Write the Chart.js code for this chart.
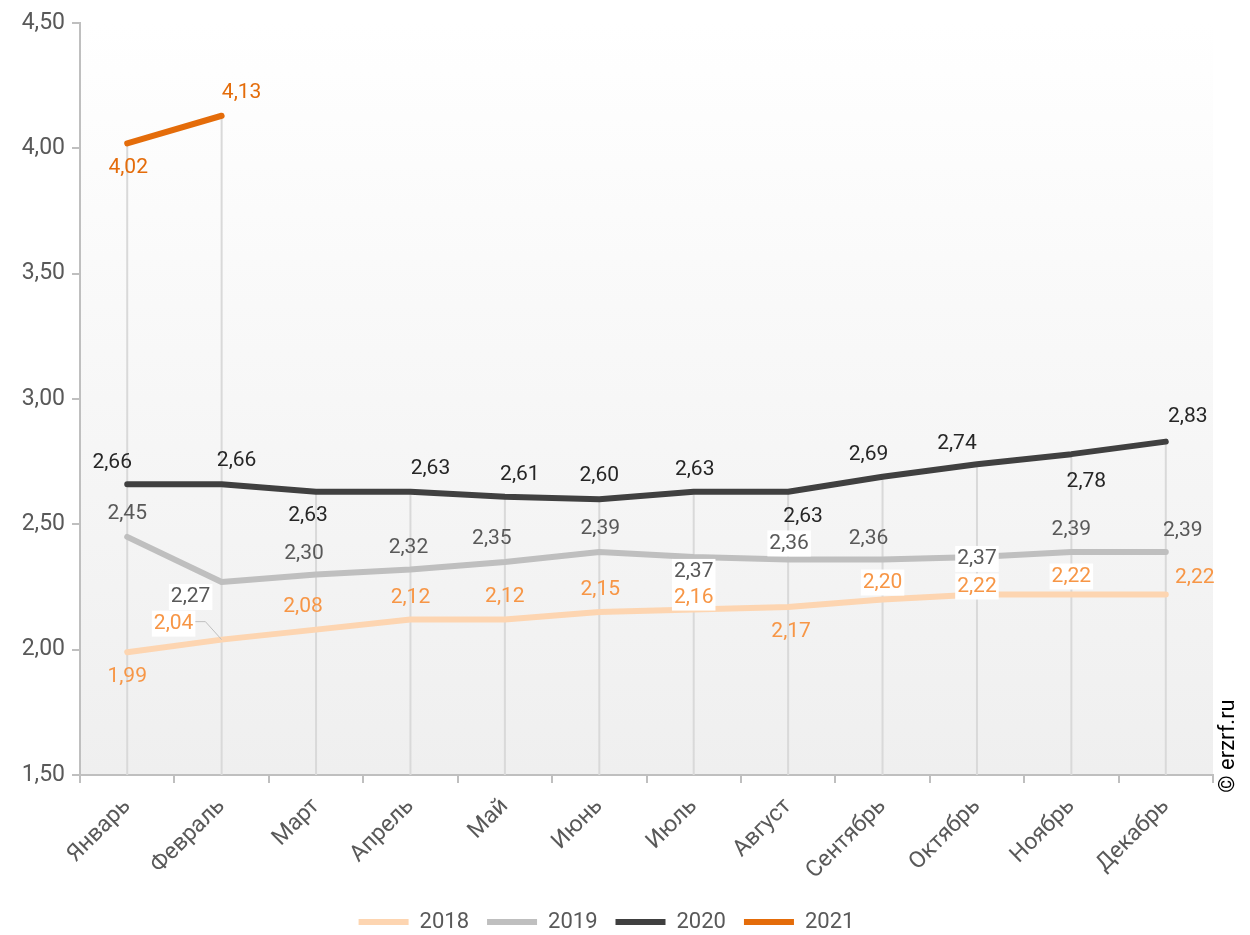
<!DOCTYPE html>
<html>
<head>
<meta charset="utf-8">
<script src="https://cdn.jsdelivr.net/npm/chart.js@4"></script>
<style>
  html, body { margin: 0; padding: 0; background: #fff; }
  #wrap { width: 1250px; height: 935px; }
</style>
</head>
<body>
<div id="wrap"><canvas id="priceChart"></canvas></div>
<script>
const months = ["Январь", "Февраль", "Март", "Апрель", "Май", "Июнь", "Июль", "Август", "Сентябрь", "Октябрь", "Ноябрь", "Декабрь"];
const years = ["2018", "2019", "2020", "2021"];
const yTicks = [1.5, 2.0, 2.5, 3.0, 3.5, 4.0, 4.5];

const values2018 = [1.99, 2.04, 2.08, 2.12, 2.12, 2.15, 2.16, 2.17, 2.20, 2.22, 2.22, 2.22];
const values2019 = [2.45, 2.27, 2.30, 2.32, 2.35, 2.39, 2.37, 2.36, 2.36, 2.37, 2.39, 2.39];
const values2020 = [2.66, 2.66, 2.63, 2.63, 2.61, 2.60, 2.63, 2.63, 2.69, 2.74, 2.78, 2.83];
const values2021 = [4.02, 4.13, null, null, null, null, null, null, null, null, null, null];

const lineColors = ["#FDD5B1", "#BFBFBF", "#404040", "#E46C0A"];
const labelColors = ["#F79646", "#595959", "#262626", "#E46C0A"];

// value label placement: [dx, dy] from the point, and whether it sits on a white box
const labelOffsets = [
  [[0, 25], [-48, -16], [-13, -23], [0, -22], [0, -23], [1, -22], [0, -12], [3, 25], [0, -17], [0, -8], [0, -18], [29, -17]],
  [[0, -23], [-31, 15], [-12, -21], [-2, -22], [-13, -23], [1, -23], [0, 15], [1, -16], [-14, -21], [0, 2], [0, -22], [17, -21]],
  [[-15, -21], [15, -23], [-8, 24], [20, -23], [15, -22], [0, -24], [1, -22], [15, 25], [-14, -22], [-20, -20], [15, 28], [22, -25]],
  [[1, 24], [20, -23]]
];
const labelBoxed = [
  [0, 1, 0, 0, 0, 0, 1, 0, 1, 1, 1, 0],
  [0, 1, 0, 0, 0, 0, 1, 1, 0, 1, 0, 0],
  [0, 0, 0, 0, 0, 0, 0, 0, 0, 0, 0, 0],
  [0, 0]
];

const allSeries = [values2018, values2019, values2020, values2021];
const fmt = v => v.toFixed(2).replace(".", ",");

const plotBackground = {
  id: "plotBackground",
  beforeDraw(chart) {
    const { ctx, chartArea: a } = chart;
    const g = ctx.createLinearGradient(0, a.top, 0, a.bottom);
    g.addColorStop(0, "#ffffff");
    g.addColorStop(1, "#efefef");
    ctx.save();
    ctx.fillStyle = g;
    ctx.fillRect(a.left, a.top, a.right - a.left, a.bottom - a.top);
    ctx.restore();
  }
};

// vertical lines from the highest point of each month down to the axis
const dropLines = {
  id: "dropLines",
  beforeDatasetsDraw(chart) {
    const { ctx, chartArea, scales: { x, y } } = chart;
    ctx.save();
    ctx.strokeStyle = "#d9d9d9";
    ctx.lineWidth = 2;
    months.forEach((m, i) => {
      const vals = allSeries.map(s => s[i]).filter(v => v != null);
      const px = x.getPixelForValue(i);
      ctx.beginPath();
      ctx.moveTo(px, y.getPixelForValue(Math.max(...vals)));
      ctx.lineTo(px, chartArea.bottom);
      ctx.stroke();
    });
    ctx.restore();
  }
};

const valueLabels = {
  id: "valueLabels",
  afterDatasetsDraw(chart) {
    const { ctx } = chart;
    ctx.save();
    ctx.font = "21px Roboto";
    ctx.textAlign = "center";
    ctx.textBaseline = "middle";
    allSeries.forEach((series, di) => {
      const meta = chart.getDatasetMeta(di);
      series.forEach((v, i) => {
        if (v == null) return;
        const pt = meta.data[i];
        const [dx, dy] = labelOffsets[di][i];
        const lx = pt.x + dx, ly = pt.y + dy;
        const text = fmt(v);
        const w = ctx.measureText(text).width;
        if (labelBoxed[di][i]) {
          ctx.fillStyle = "#ffffff";
          ctx.fillRect(lx - w / 2 - 2, ly - 13, w + 4, 26);
        }
        if (di === 0 && i === 1) {
          ctx.strokeStyle = "#bfbfbf";
          ctx.lineWidth = 1;
          ctx.beginPath();
          ctx.moveTo(lx + w / 2 + 2, ly - 2);
          ctx.lineTo(lx + w / 2 + 12, ly - 2);
          ctx.lineTo(pt.x, pt.y);
          ctx.stroke();
        }
        ctx.fillStyle = labelColors[di];
        ctx.fillText(text, lx, ly);
      });
    });
    ctx.restore();
  }
};

const sourceNote = {
  id: "sourceNote",
  afterDraw(chart) {
    const { ctx, chartArea } = chart;
    ctx.save();
    ctx.translate(chartArea.right + 15, chartArea.bottom - 29);
    ctx.rotate(-Math.PI / 2);
    ctx.font = "22px Roboto";
    ctx.fillStyle = "#000000";
    ctx.textAlign = "center";
    ctx.textBaseline = "middle";
    ctx.fillText("© erzrf.ru", 0, 0);
    ctx.restore();
  }
};

const datasets = years.map((yr, i) => ({
  label: yr,
  data: allSeries[i],
  borderColor: lineColors[i],
  backgroundColor: lineColors[i],
  borderWidth: 6,
  borderCapStyle: "round",
  borderJoinStyle: "round",
  pointRadius: 0,
  tension: 0,
  fill: false
}));

new Chart(document.getElementById("priceChart"), {
  type: "line",
  data: { labels: months, datasets: datasets },
  options: {
    responsive: true,
    maintainAspectRatio: false,
    animation: false,
    events: [],
    layout: { padding: { top: 23, right: 37, left: 0, bottom: 0 } },
    plugins: {
      tooltip: { enabled: false },
      legend: {
        position: "bottom",
        maxHeight: 42,
        labels: {
          usePointStyle: true,
          pointStyle: "line",
          pointStyleWidth: 50,
          color: "#595959",
          font: { family: "Roboto", size: 22 },
          padding: 18
        }
      }
    },
    scales: {
      x: {
        offset: true,
        afterFit: s => { s.height = 118; },
        grid: { offset: true, drawOnChartArea: false, tickLength: 8, color: "#bfbfbf", lineWidth: 2 },
        border: { color: "#bfbfbf", width: 2 },
        ticks: {
          minRotation: 45,
          maxRotation: 45,
          color: "#595959",
          font: { family: "Roboto", size: 23 },
          padding: 10
        }
      },
      y: {
        min: yTicks[0],
        max: yTicks[yTicks.length - 1],
        afterBuildTicks: s => { s.ticks = yTicks.map(v => ({ value: v })); },
        afterFit: s => { s.width = 80; },
        grid: { drawOnChartArea: false, tickLength: 8, color: "#bfbfbf", lineWidth: 2 },
        border: { color: "#bfbfbf", width: 2 },
        ticks: {
          color: "#595959",
          font: { family: "Roboto", size: 23 },
          padding: 7,
          callback: v => fmt(v)
        }
      }
    }
  },
  plugins: [plotBackground, dropLines, valueLabels, sourceNote]
});
</script>
</body>
</html>
